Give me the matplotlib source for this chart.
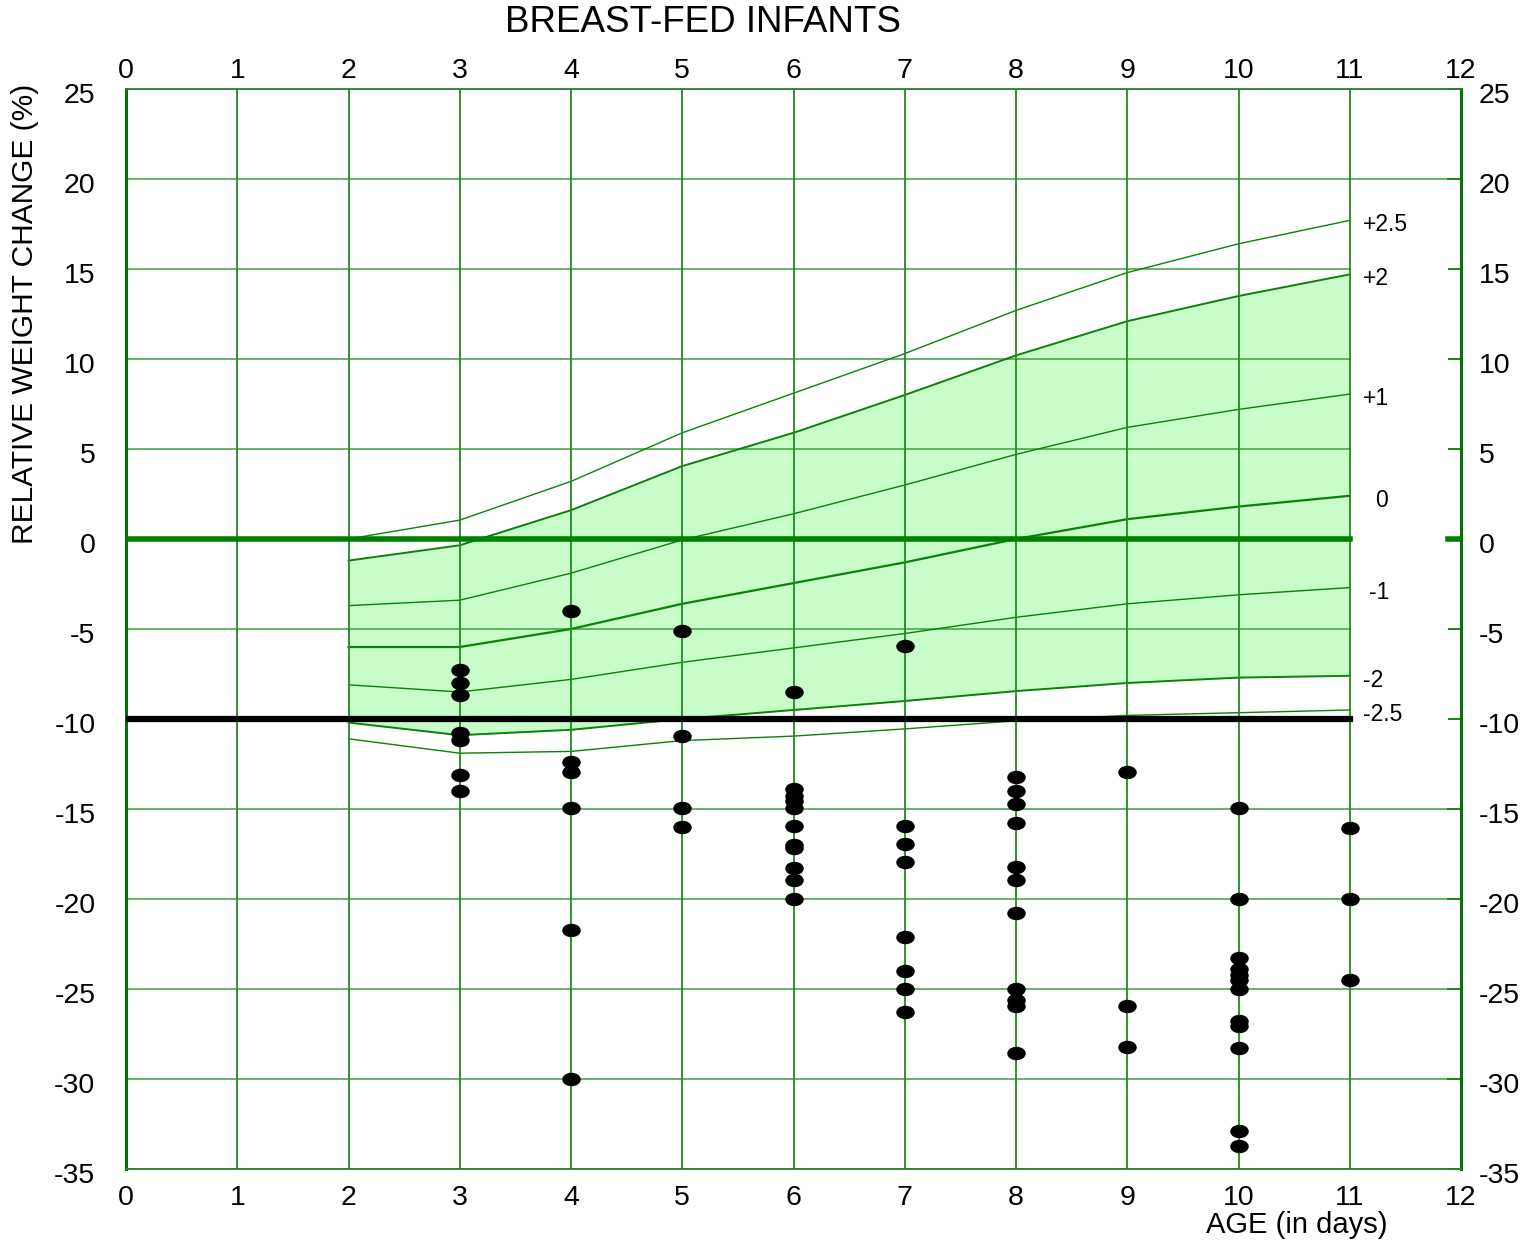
import matplotlib
matplotlib.use('Agg')
import matplotlib.pyplot as plt
from matplotlib.path import Path
from matplotlib.transforms import Affine2D, ScaledTranslation

plt.rcParams['font.family'] = ['Liberation Sans', 'DejaVu Sans']
plt.rcParams['axes.unicode_minus'] = False

# z-score reference curves (relative weight change, %) by age in days
curve_days = [2, 3, 4, 5, 6, 7, 8, 9, 10, 11]
sd_p25 = [0.0, 1.05, 3.2, 5.9, 8.1, 10.3, 12.7, 14.8, 16.4, 17.7]
sd_p2 = [-1.2, -0.35, 1.6, 4.05, 5.9, 8.0, 10.2, 12.1, 13.5, 14.7]
sd_p1 = [-3.7, -3.4, -1.9, -0.05, 1.4, 3.0, 4.7, 6.2, 7.2, 8.05]
sd_0 = [-6.0, -6.0, -5.0, -3.6, -2.45, -1.3, 0.0, 1.1, 1.8, 2.4]
sd_m1 = [-8.1, -8.5, -7.8, -6.85, -6.05, -5.25, -4.35, -3.6, -3.1, -2.7]
sd_m2 = [-10.2, -10.9, -10.6, -10.0, -9.5, -9.0, -8.45, -8.0, -7.7, -7.6]
sd_m25 = [-11.1, -11.9, -11.8, -11.2, -10.95, -10.55, -10.1, -9.8, -9.65, -9.5]
curve_labels = ['+2.5', '+2', '+1', '0', '-1', '-2', '-2.5']

# individual infants
dot_age = [3, 3, 3, 3, 3, 3, 3,
           4, 4, 4, 4, 4, 4,
           5, 5, 5, 5,
           6, 6, 6, 6, 6, 6, 6, 6, 6, 6, 6,
           7, 7, 7, 7, 7, 7, 7, 7,
           8, 8, 8, 8, 8, 8, 8, 8, 8, 8, 8,
           9, 9, 9,
           10, 10, 10, 10, 10, 10, 10, 10, 10, 10, 10, 10,
           11, 11, 11]
dot_change = [-7.25, -8.0, -8.65, -10.8, -11.15, -13.1, -14.0,
              -4.0, -12.4, -12.95, -14.95, -21.7, -30.0,
              -5.1, -10.95, -14.95, -16.0,
              -8.5, -13.9, -14.25, -14.55, -14.95, -15.95, -17.0, -17.15, -18.3, -18.95, -20.0,
              -5.95, -15.95, -16.95, -17.95, -22.1, -24.0, -25.0, -26.25,
              -13.2, -14.0, -14.7, -15.8, -18.2, -18.95, -20.8, -25.0, -25.6, -25.95, -28.55,
              -12.95, -25.95, -28.2,
              -14.95, -20.0, -23.3, -23.9, -24.5, -25.0, -26.8, -27.05, -28.3, -32.9, -33.7, -24.2,
              -16.05, -20.0, -24.5]

x_ticks = list(range(0, 13))
y_ticks = list(range(-35, 26, 5))

GREEN = '#0a820a'
fig = plt.figure(figsize=(15.23, 12.48), dpi=100)
ax = fig.add_axes([126 / 1523, 1 - 1169 / 1248, 1335 / 1523, 1080 / 1248])
ax.set_xlim(0, 12)
ax.set_ylim(-35, 25)

# shaded band between -2 and +2 SD
ax.fill_between(curve_days, sd_m2, sd_p2, color='#c8fcc8', lw=0, zorder=1)

# grid
for y in y_ticks:
    ax.axhline(y, color='#3f9f3f', lw=1.1, zorder=1.5)
for x in x_ticks:
    ax.axvline(x, color='#1f8c1f', lw=1.3, zorder=2.3)

# curves
for vals, lw in [(sd_p25, 1.0), (sd_p2, 1.4), (sd_p1, 1.0), (sd_0, 1.6),
                 (sd_m1, 1.0), (sd_m2, 1.4), (sd_m25, 1.0)]:
    ax.plot(curve_days, vals, color=GREEN, lw=lw, zorder=2)

# white label strip at the right
ax.axvspan(11.01, 11.88, ymin=(-10.3 + 35) / 60, ymax=(15.4 + 35) / 60,
           color='white', lw=0, zorder=2.2)

# reference lines
ax.axhline(0, xmin=0, xmax=11 / 12, color='#008000', lw=4, zorder=3)
ax.axhline(0, xmin=11.88 / 12, xmax=1, color='#008000', lw=4, zorder=3)
ax.axhline(-10, xmin=0, xmax=11 / 12, color='black', lw=4.5, zorder=3)

# data points (ellipses)
ell = Affine2D().scale(1.0, 12 / 17).transform_path(Path.unit_circle())
ax.plot(dot_age, dot_change, ls='none', marker=ell, ms=12.3,
        color='black', zorder=4)

# curve labels
label_dx = [0, 0, 0, 0.11, 0.05, 0, 0]
ends = [sd_p25[-1], sd_p2[-1], sd_p1[-1], sd_0[-1], sd_m1[-1], sd_m2[-1], sd_m25[-1]]
for lab, yv, dx in zip(curve_labels, ends, label_dx):
    ax.text(11.12 + dx, yv - 0.25, lab, fontsize=16.5, ha='left', va='center',
            zorder=5)

# axes styling
ax.set_xticks(x_ticks)
ax.set_yticks(y_ticks)
ax.tick_params(axis='x', which='both', bottom=False, top=False,
               labelbottom=True, labeltop=True, labelsize=20.5, pad=8)
ax.tick_params(axis='y', left=False, right=True, direction='in', length=10,
               width=1.2, color=GREEN, labelleft=True, labelright=True,
               labelsize=20.5, pad=13)

for s in ['left', 'right']:
    ax.spines[s].set_color('#076f07')
    ax.spines[s].set_linewidth(2.2)
for s in ['top', 'bottom']:
    ax.spines[s].set_color('#2b7f2b')
    ax.spines[s].set_linewidth(1.3)

fig.canvas.draw()
left_shift = ScaledTranslation(-9 / 72, -3 / 72, fig.dpi_scale_trans)
right_shift = ScaledTranslation(0, -3 / 72, fig.dpi_scale_trans)
top_shift = ScaledTranslation(0, -8 / 72, fig.dpi_scale_trans)
for t in ax.yaxis.get_major_ticks():
    t.label1.set_transform(t.label1.get_transform() + left_shift)
    t.label2.set_transform(t.label2.get_transform() + right_shift)
for t in ax.xaxis.get_major_ticks():
    t.label2.set_transform(t.label2.get_transform() + top_shift)

fig.text(703 / 1523, 1 - 22 / 1248, 'BREAST-FED INFANTS', fontsize=26.5,
         ha='center', va='center')
fig.text(25 / 1523, 1 - 314 / 1248, 'RELATIVE WEIGHT CHANGE (%)', fontsize=21.5,
         rotation=90, ha='center', va='center')
fig.text(1388 / 1523, 1 - 1225 / 1248, 'AGE (in days)', fontsize=21,
         ha='right', va='center')

fig.savefig('out.png', dpi=100)
